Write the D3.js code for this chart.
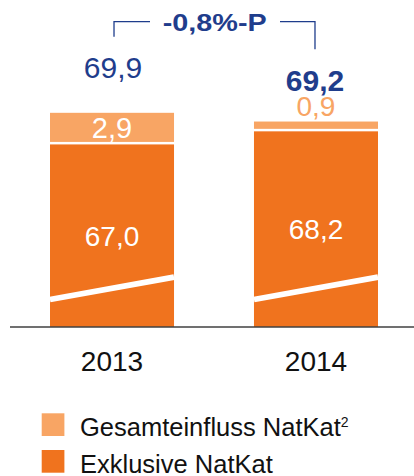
<!DOCTYPE html>
<html>
<head>
<meta charset="utf-8">
<script src="https://cdn.jsdelivr.net/npm/d3@7"></script>
<style>
  body { margin: 0; background: #fff; }
  svg { display: block; font-family: "Liberation Sans", Arial, sans-serif; }
</style>
</head>
<body>
<svg id="chart" width="414" height="476"></svg>
<script>

///////  Data ///////

var years = ["2013", "2014"];
var exklusive = [67.0, 68.2];
var einfluss = [2.9, 0.9];
var totalLabels = ["69,9", "69,2"];
var exklusiveLabels = ["67,0", "68,2"];
var einflussLabels = ["2,9", "0,9"];
var changeLabel = "-0,8%-P";
var legendItems = ["Gesamteinfluss NatKat", "Exklusive NatKat"];

var blue = "#1f3d8c",
    dark = "#f0731e",
    light = "#f8a564";

var svg = d3.select("#chart");

var baseY = 327;

var x = d3.scaleBand()
    .domain(years)
    .range([50, 378])
    .paddingInner(0.392)
    .paddingOuter(0);

// axis is broken, so the bars start at ~50
var y = d3.scaleLinear()
    .domain([50.25, 70])
    .range([baseY, baseY - 19.75 * 10.9]);

var bw = x.bandwidth();
var gap = 2.5;

///////  Bars ///////

var bars = svg.selectAll(".bar")
    .data(years)
    .enter().append("g")
    .attr("class", "bar");

bars.append("rect")
    .attr("x", function(d) { return x(d); })
    .attr("y", function(d, i) { return y(exklusive[i]); })
    .attr("width", bw)
    .attr("height", function(d, i) { return y.range()[0] - y(exklusive[i]); })
    .attr("fill", dark);

bars.append("rect")
    .attr("x", function(d) { return x(d); })
    .attr("y", function(d, i) { return y(exklusive[i] + einfluss[i]); })
    .attr("width", bw)
    .attr("height", function(d, i) { return y(exklusive[i]) - y(exklusive[i] + einfluss[i]) - gap; })
    .attr("fill", light);

// white break stripe
bars.append("line")
    .attr("x1", function(d) { return x(d); })
    .attr("x2", function(d) { return x(d) + bw; })
    .attr("y1", baseY - 27.5)
    .attr("y2", baseY - 49.8)
    .attr("stroke", "#fff")
    .attr("stroke-width", 5.8);

// baseline
svg.append("line")
    .attr("x1", 10).attr("x2", 414)
    .attr("y1", baseY).attr("y2", baseY)
    .attr("stroke", "#404040")
    .attr("stroke-width", 1.3);

///////  Labels ///////

bars.append("text")
    .attr("x", function(d) { return x(d) + bw / 2; })
    .attr("y", function(d, i) { return (y(exklusive[i]) + baseY) / 2 + 10; })
    .attr("text-anchor", "middle")
    .attr("font-size", "28px")
    .attr("fill", "#fff")
    .text(function(d, i) { return exklusiveLabels[i]; });

// 2013: inside light segment
svg.append("text")
    .attr("x", x(years[0]) + bw / 2)
    .attr("y", (y(exklusive[0]) + y(exklusive[0] + einfluss[0])) / 2 + 9.5)
    .attr("text-anchor", "middle")
    .attr("font-size", "29px")
    .attr("fill", "#fff")
    .text(einflussLabels[0]);

// 2014: above the thin segment
svg.append("text")
    .attr("x", x(years[1]) + bw / 2)
    .attr("y", y(exklusive[1] + einfluss[1]) - 5.5)
    .attr("text-anchor", "middle")
    .attr("font-size", "28px")
    .attr("fill", light)
    .text(einflussLabels[1]);

svg.append("text")
    .attr("x", x(years[0]) + bw / 2 + 1)
    .attr("y", y(exklusive[0] + einfluss[0]) - 35)
    .attr("text-anchor", "middle")
    .attr("font-size", "30px")
    .attr("fill", blue)
    .text(totalLabels[0]);

svg.append("text")
    .attr("x", x(years[1]) + bw / 2 - 1)
    .attr("y", y(exklusive[1] + einfluss[1]) - 31)
    .attr("text-anchor", "middle")
    .attr("font-size", "30px")
    .attr("font-weight", "bold")
    .attr("fill", blue)
    .text(totalLabels[1]);

///////  Change bracket ///////

var c1 = x(years[0]) + bw / 2 + 2,
    c2 = x(years[1]) + bw / 2 - 1;

svg.append("path")
    .attr("d", "M" + c1 + ",36.7V21.7H150")
    .attr("fill", "none")
    .attr("stroke", blue)
    .attr("stroke-width", 1.3);

svg.append("path")
    .attr("d", "M280,21.7H" + c2 + "V49.3")
    .attr("fill", "none")
    .attr("stroke", blue)
    .attr("stroke-width", 1.3);

svg.append("text")
    .attr("x", 162.7)
    .attr("y", 30.7)
    .attr("font-size", "24.5px")
    .attr("font-weight", "bold")
    .attr("fill", blue)
    .attr("textLength", 104)
    .attr("lengthAdjust", "spacingAndGlyphs")
    .text(changeLabel);

///////  Category axis ///////

svg.selectAll(".year")
    .data(years)
    .enter().append("text")
    .attr("class", "year")
    .attr("x", function(d) { return x(d) + bw / 2; })
    .attr("y", 371)
    .attr("text-anchor", "middle")
    .attr("font-size", "28px")
    .attr("fill", "#111")
    .text(function(d) { return d; });

///////  Legend ///////

var legend = svg.selectAll(".legend")
    .data(legendItems)
    .enter().append("g")
    .attr("class", "legend")
    .attr("transform", function(d, i) { return "translate(41.7," + (413.3 + i * 36.7) + ")"; });

legend.append("rect")
    .attr("width", 22.7)
    .attr("height", 22.7)
    .attr("fill", function(d, i) { return i == 0 ? light : dark; });

var lt = legend.append("text")
    .attr("x", 38.3)
    .attr("y", 22.7)
    .attr("font-size", "25.5px")
    .attr("fill", "#111")
    .text(function(d) { return d; });

lt.filter(function(d, i) { return i == 0; })
    .append("tspan")
    .attr("dy", -8.5)
    .attr("font-size", "14px")
    .text("2");

</script>
</body>
</html>
